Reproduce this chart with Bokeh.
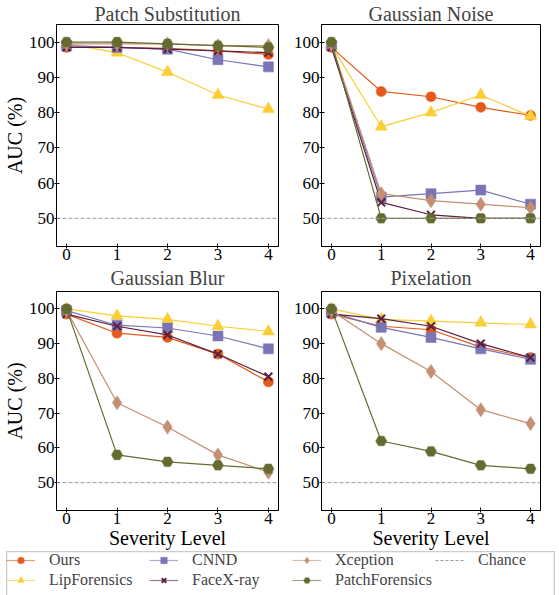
from bokeh.plotting import figure
from bokeh.layouts import column, row, Spacer
from bokeh.models import FixedTicker, Span, Legend, LegendItem, Range1d
from bokeh.embed import file_html
from bokeh.resources import INLINE

# ---------------- data ----------------
severity = [0, 1, 2, 3, 4]
x_ticks = [0, 1, 2, 3, 4]
y_ticks = [50, 60, 70, 80, 90, 100]
chance_level = 50

methods = ["Ours", "LipForensics", "CNND", "FaceX-ray", "Xception", "PatchForensics"]

patch_substitution = {
    "Ours":           [98.5, 98.5, 98.2, 97.5, 96.5],
    "LipForensics":   [99.5, 97.0, 91.5, 85.0, 81.0],
    "CNND":           [99.0, 98.5, 98.0, 95.0, 93.0],
    "FaceX-ray":      [98.5, 98.5, 98.0, 97.5, 97.0],
    "Xception":       [99.5, 99.5, 99.5, 99.0, 99.0],
    "PatchForensics": [100.0, 100.0, 99.5, 99.0, 98.5],
}
gaussian_noise = {
    "Ours":           [98.5, 86.0, 84.5, 81.5, 79.2],
    "LipForensics":   [99.0, 76.0, 80.0, 85.0, 79.0],
    "CNND":           [99.0, 56.0, 57.0, 58.0, 54.0],
    "FaceX-ray":      [98.5, 54.5, 51.0, 50.0, 50.0],
    "Xception":       [99.5, 57.0, 55.0, 54.0, 53.0],
    "PatchForensics": [100.0, 50.0, 50.0, 50.0, 50.0],
}
gaussian_blur = {
    "Ours":           [98.5, 93.0, 91.8, 87.0, 79.0],
    "LipForensics":   [100.0, 98.0, 97.0, 95.0, 93.5],
    "CNND":           [99.5, 95.3, 94.5, 92.2, 88.5],
    "FaceX-ray":      [98.5, 95.0, 92.5, 87.0, 80.5],
    "Xception":       [99.5, 73.0, 66.0, 58.0, 53.0],
    "PatchForensics": [100.0, 58.0, 56.0, 55.0, 54.0],
}
pixelation = {
    "Ours":           [98.5, 95.0, 94.0, 89.0, 86.0],
    "LipForensics":   [100.0, 97.0, 96.5, 96.0, 95.5],
    "CNND":           [99.0, 94.7, 91.8, 88.5, 85.5],
    "FaceX-ray":      [98.5, 97.2, 95.0, 90.0, 86.0],
    "Xception":       [99.5, 90.0, 82.0, 71.0, 67.0],
    "PatchForensics": [100.0, 62.0, 59.0, 55.0, 54.0],
}

# ---------------- style ----------------
FONT = "Liberation Serif"
colors = {
    "Ours": "#e55a1b",
    "LipForensics": "#f9cf35",
    "CNND": "#7b74b5",
    "FaceX-ray": "#5b1f3f",
    "Xception": "#c48f72",
    "PatchForensics": "#656b30",
}
markers = {
    "Ours": ("circle", 10),
    "LipForensics": ("triangle", 12),
    "CNND": ("square", 10),
    "FaceX-ray": ("x", 11),
    "Xception": ("diamond", 14),
    "PatchForensics": ("hex", 11),
}
CHANCE_COLOR = "#9a9a9a"


def draw_series(p, xs, ys, name, legend_mode=False):
    c = colors[name]
    m, s = markers[name]
    lr = p.line(xs, ys, line_color=c, line_width=1.2,
                line_alpha=0.6 if legend_mode else 1.0)
    if m == "x":
        sr = p.scatter(xs, ys, marker=m, size=s - (2 if legend_mode else 0),
                       line_color=c, line_width=2)
    else:
        sr = p.scatter(xs, ys, marker=m, size=s - (2 if legend_mode else 0),
                       fill_color=c, line_color=c, line_alpha=0.45, line_width=1.2)
    return lr, sr


def make_panel(title, data, left_label, bottom_label, fw, fh, right_border,
               title_standoff):
    p = figure(frame_width=fw, frame_height=fh, output_backend="svg",
               toolbar_location=None, x_range=Range1d(-0.2, 4.2),
               y_range=Range1d(42, 105), min_border_left=0,
               min_border_right=right_border, min_border_top=0,
               min_border_bottom=0)
    p.title.text = title
    p.title.align = "center"
    p.title.text_font = FONT
    p.title.text_font_size = "20px"
    p.title.text_font_style = "normal"
    p.title.standoff = title_standoff
    p.title.offset = 0
    p.xgrid.visible = False
    p.ygrid.visible = False
    p.outline_line_color = "black"
    p.outline_line_width = 1
    p.background_fill_color = "white"
    p.border_fill_color = "white"

    p.xaxis.ticker = FixedTicker(ticks=x_ticks)
    p.yaxis.ticker = FixedTicker(ticks=y_ticks)
    for ax in (p.xaxis, p.yaxis):
        ax.major_label_text_font = FONT
        ax.major_label_text_font_size = "17px"
        ax.major_label_text_color = "black"
        ax.axis_line_color = "black"
        ax.major_tick_line_color = "black"
        ax.major_tick_in = 3
        ax.major_tick_out = 2
        ax.minor_tick_line_color = None
        ax.major_label_standoff = 0
        ax.axis_label_text_font = FONT
        ax.axis_label_text_font_size = "20px"
        ax.axis_label_text_font_style = "normal"
        ax.axis_label_text_color = "black"
        ax.axis_label_standoff = 0
    if left_label:
        p.yaxis.axis_label = "AUC (%)"
    if bottom_label:
        p.xaxis.axis_label = "Severity Level"

    p.add_layout(Span(location=chance_level, dimension="width",
                      line_color=CHANCE_COLOR, line_dash="4 2", line_width=1))
    for name in methods:
        draw_series(p, severity, data[name], name)
    return p


p1 = make_panel("Patch Substitution", patch_substitution, True, False, 222, 222, 12, 0)
p2 = make_panel("Gaussian Noise", gaussian_noise, False, False, 219, 222, 19, 0)
p3 = make_panel("Gaussian Blur", gaussian_blur, True, True, 222, 219, 12, 5)
p4 = make_panel("Pixelation", pixelation, False, True, 219, 219, 19, 5)

# ---------------- legend figure ----------------
# series drawn off-range: only their legend glyphs are visible
lf = figure(width=549, height=46, output_backend="svg", toolbar_location=None,
            min_border=0, x_range=Range1d(100, 101), y_range=Range1d(0, 1))
lf.axis.visible = False
lf.xgrid.visible = False
lf.ygrid.visible = False
lf.outline_line_color = "#cccccc"
lf.outline_line_width = 1.5

items = []
for name in methods:
    lr, sr = draw_series(lf, severity, patch_substitution[name], name, legend_mode=True)
    items.append(LegendItem(label=name, renderers=[lr, sr]))
ch = lf.line(severity, [chance_level] * len(severity), line_color=CHANCE_COLOR,
             line_dash="3 2", line_width=1)
items.append(LegendItem(label="Chance", renderers=[ch]))

leg = Legend(items=items, nrows=2, location="top_left",
             label_text_font=FONT, label_text_font_size="16px",
             glyph_width=29, glyph_height=16, label_standoff=14,
             label_width=98, spacing=2, padding=11, margin=0,
             border_line_color=None, background_fill_alpha=0)
lf.add_layout(leg, "center")

layout = column(row(p1, p2), row(p3, p4), row(Spacer(width=6), lf))

with open("out.html", "w") as f:
    f.write(file_html(layout, INLINE))
